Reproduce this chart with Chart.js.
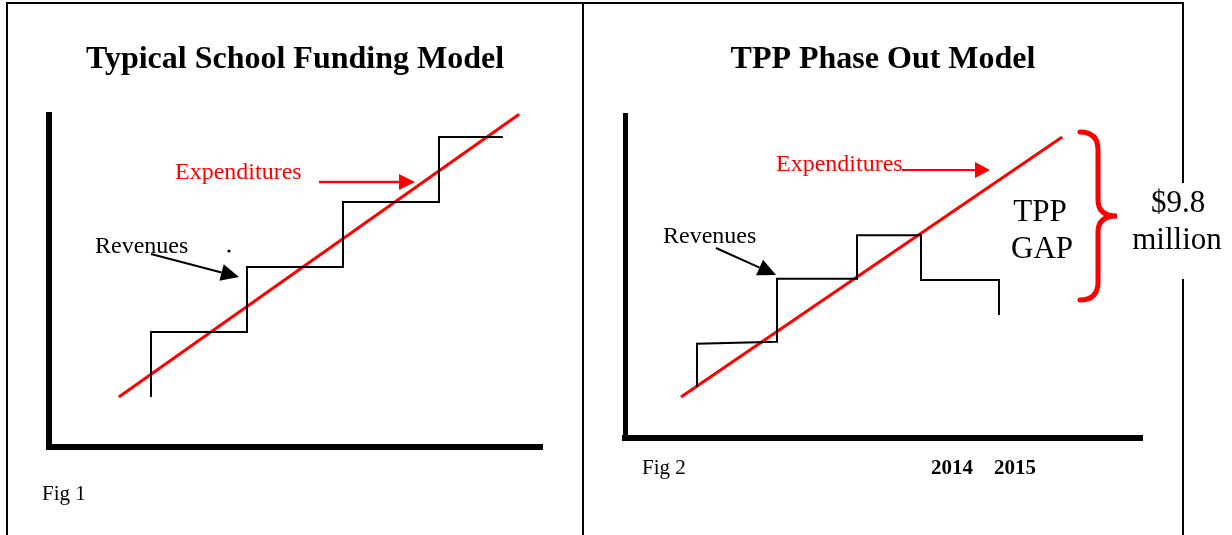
<!DOCTYPE html>
<html>
<head>
<meta charset="utf-8">
<script src="https://cdn.jsdelivr.net/npm/chart.js@4/dist/chart.umd.min.js"></script>
<style>
  html, body { margin: 0; padding: 0; background: #fff; }
  #page { position: relative; width: 1232px; height: 535px; overflow: hidden; background: #fff; }
  canvas { position: absolute; left: 0; top: 0; }
  .rule { position: absolute; background: #000; }
</style>
</head>
<body>
<div id="page">
  <div class="rule" style="left:6px;top:2px;width:2px;height:533px"></div>
  <div class="rule" style="left:6px;top:2px;width:1178px;height:2px"></div>
  <div class="rule" style="left:582px;top:2px;width:2px;height:533px"></div>
  <div class="rule" style="left:1182px;top:2px;width:2px;height:181px"></div>
  <div class="rule" style="left:1182px;top:279px;width:2px;height:256px"></div>
  <canvas id="c1" width="1232" height="535"></canvas>
  <canvas id="c2" width="1232" height="535"></canvas>
</div>
<script>
// ---------- Data ----------
// Fig 1: Typical School Funding Model
const fig1RevenueX = [2, 2, 4, 4, 6, 6, 8, 8, 9.33];
const fig1RevenueY = [0, 1, 1, 2, 2, 3, 3, 4, 4];
const fig1ExpenditureX = [1.33, 9.67];
const fig1ExpenditureY = [0, 4.35];

// Fig 2: TPP Phase Out Model
const fig2RevenueX = [2, 2, 4, 4, 6, 6, 7.6, 7.6, 9.55, 9.55];
const fig2RevenueY = [0.15, 0.82, 0.85, 1.82, 1.82, 2.49, 2.49, 1.8, 1.8, 1.26];
const fig2ExpenditureX = [1.6, 11.13];
const fig2ExpenditureY = [0, 4.0];

// Tick-like year labels under Fig 2
const yearLabels = ['2014', '2015'];
const yearPositions = [8.375, 9.95];

const titles = ['Typical School Funding Model', 'TPP Phase Out Model'];
const gapLabel = ['TPP', 'GAP'];
const gapAmount = ['$9.8', 'million'];

// ---------- helpers ----------
const SERIF = '"Liberation Serif", "Times New Roman", serif';
const RED = '#ff0000';
const pts = (xs, ys) => xs.map((v, i) => ({x: v, y: ys[i]}));

function arrow(ctx, x1, y1, x2, y2, color, lw, len, half) {
  const a = Math.atan2(y2 - y1, x2 - x1);
  const bx = x2 - len * Math.cos(a), by = y2 - len * Math.sin(a);
  ctx.strokeStyle = color; ctx.fillStyle = color; ctx.lineWidth = lw;
  ctx.beginPath(); ctx.moveTo(x1, y1); ctx.lineTo(bx, by); ctx.stroke();
  ctx.beginPath();
  ctx.moveTo(x2, y2);
  ctx.lineTo(bx + half * Math.sin(a), by - half * Math.cos(a));
  ctx.lineTo(bx - half * Math.sin(a), by + half * Math.cos(a));
  ctx.closePath(); ctx.fill();
}

const annotPlugin = {
  id: 'annot',
  afterDraw(chart, args, o) {
    const {ctx} = chart;
    const X = v => chart.scales.x.getPixelForValue(v);
    const Y = v => chart.scales.y.getPixelForValue(v);
    ctx.save();
    // title (layout position)
    ctx.font = 'bold 32px ' + SERIF;
    ctx.fillStyle = '#000'; ctx.textAlign = 'center'; ctx.textBaseline = 'alphabetic';
    ctx.fillText(o.title, o.titleX, 68);
    // texts anchored in data units
    for (const t of o.texts) {
      ctx.font = t.font + ' ' + SERIF;
      ctx.fillStyle = t.color || '#000';
      ctx.textAlign = t.align || 'left';
      ctx.fillText(t.text, X(t.x), Y(t.y));
    }
    for (const a of o.arrows) {
      arrow(ctx, X(a.x1), Y(a.y1), X(a.x2), Y(a.y2), a.color, a.lw, a.len, a.half);
    }
    for (const d of (o.dots || [])) {
      ctx.fillStyle = '#000'; ctx.beginPath(); ctx.arc(X(d.x), Y(d.y), 1.6, 0, Math.PI * 2); ctx.fill();
    }
    if (o.brace) {
      const b = o.brace;
      const x0 = X(b.x), xt = X(b.tipX), xm = x0 + 18;
      const yt = Y(b.top), yb = Y(b.bottom), ym = Y(b.mid);
      ctx.strokeStyle = RED; ctx.lineWidth = 5; ctx.lineCap = 'round';
      ctx.beginPath();
      ctx.moveTo(x0, yt);
      ctx.quadraticCurveTo(xm, yt, xm, yt + 18);
      ctx.lineTo(xm, ym - 16);
      ctx.quadraticCurveTo(xm, ym, xt, ym);
      ctx.quadraticCurveTo(xm, ym, xm, ym + 16);
      ctx.lineTo(xm, yb - 18);
      ctx.quadraticCurveTo(xm, yb, x0, yb);
      ctx.stroke();
    }
    ctx.restore();
  }
};

function scale(min, max, width) {
  return {
    type: 'linear', min, max, display: true,
    grid: {display: false, drawTicks: false},
    ticks: {display: false},
    border: {display: true, width, color: '#000'},
    afterFit(s) { if (s.isHorizontal()) s.height = 0; else s.width = 0; }
  };
}

function makeChart(id, revX, revY, expX, expY, sx, sy, padding, annot) {
  return new Chart(document.getElementById(id), {
    type: 'scatter',
    data: {
      datasets: [
        {label: 'Revenues', data: pts(revX, revY), showLine: true, borderColor: '#000',
         borderWidth: 2, pointRadius: 0, tension: 0, clip: false, borderJoinStyle: 'miter'},
        {label: 'Expenditures', data: pts(expX, expY), showLine: true, borderColor: RED,
         borderWidth: 3, pointRadius: 0, tension: 0, clip: false}
      ]
    },
    options: {
      responsive: false, animation: false, devicePixelRatio: 1,
      events: [],
      layout: {padding},
      scales: {x: sx, y: sy},
      plugins: {legend: {display: false}, tooltip: {enabled: false}, title: {display: false}, annot}
    },
    plugins: [annotPlugin]
  });
}

// Fig 1
makeChart('c1', fig1RevenueX, fig1RevenueY, fig1ExpenditureX, fig1ExpenditureY,
  scale(-0.125, 10.146, 6), scale(-0.769, 4.338, 6),
  {left: 49, top: 115, right: 690, bottom: 88},
  {
    title: titles[0], titleX: 295,
    texts: [
      {text: 'Expenditures', x: 2.5, y: 3.354, font: '24px', color: RED},
      {text: 'Revenues', x: 0.833, y: 2.215, font: '24px'},
      {text: 'Fig 1', x: -0.27, y: -1.585, font: '21px'}
    ],
    arrows: [
      {x1: 5.5, y1: 3.308, x2: 7.5, y2: 3.308, color: RED, lw: 2.5, len: 16, half: 8},
      {x1: 2.0, y1: 2.2, x2: 3.833, y2: 1.846, color: '#000', lw: 2, len: 18, half: 8.5}
    ],
    dots: [{x: 3.625, y: 2.246}]
  });

// Fig 2
makeChart('c2', fig2RevenueX, fig2RevenueY, fig2ExpenditureX, fig2ExpenditureY,
  scale(0.2, 13.125, 6), scale(-0.631, 4.338, 5),
  {left: 625, top: 115, right: 90, bottom: 97},
  {
    title: titles[1], titleX: 883,
    texts: [
      {text: 'Expenditures', x: 3.975, y: 3.477, font: '24px', color: RED},
      {text: 'Revenues', x: 1.15, y: 2.369, font: '24px'},
      {text: gapLabel[0], x: 10.575, y: 2.708, font: '31px', align: 'center'},
      {text: gapLabel[1], x: 10.625, y: 2.138, font: '31px', align: 'center'},
      {text: gapAmount[0], x: 14.025, y: 2.846, font: '31px', align: 'center'},
      {text: gapAmount[1], x: 14.0, y: 2.277, font: '31px', align: 'center'},
      {text: yearLabels[0], x: yearPositions[0], y: -1.185, font: 'bold 21px', align: 'center'},
      {text: yearLabels[1], x: yearPositions[1], y: -1.185, font: 'bold 21px', align: 'center'},
      {text: 'Fig 2', x: 0.625, y: -1.185, font: '21px'}
    ],
    arrows: [
      {x1: 7.125, y1: 3.492, x2: 9.325, y2: 3.492, color: RED, lw: 2.2, len: 15, half: 8},
      {x1: 2.475, y1: 2.292, x2: 3.975, y2: 1.877, color: '#000', lw: 2, len: 18, half: 8.5}
    ],
    brace: {x: 11.575, tipX: 12.5, top: 4.077, bottom: 1.492, mid: 2.785}
  });
</script>
</body>
</html>
